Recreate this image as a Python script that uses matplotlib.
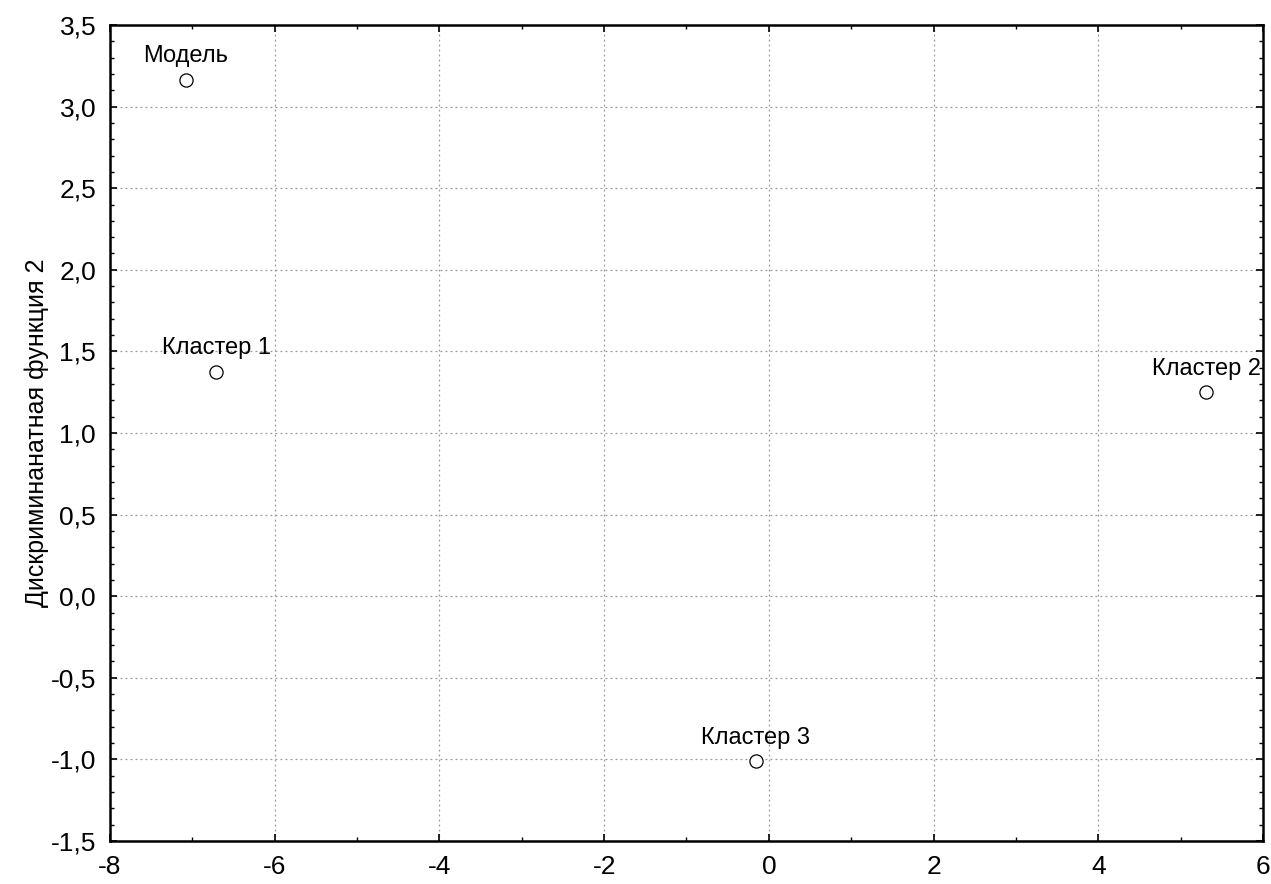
import matplotlib.pyplot as plt
from matplotlib.ticker import MultipleLocator, FuncFormatter

plt.rcParams['font.family'] = ['Liberation Sans Narrow', 'Liberation Sans', 'DejaVu Sans']
plt.rcParams['axes.unicode_minus'] = False

names = ['Модель', 'Кластер 1', 'Кластер 2', 'Кластер 3']
f1 = [-7.08, -6.71, 5.31, -0.16]
f2 = [3.165, 1.375, 1.25, -1.01]

fig = plt.figure(figsize=(12.71, 8.84), dpi=100)
ax = fig.add_axes([110 / 1271, 43 / 884, 1153 / 1271, 816 / 884])

ax.plot(f1, f2, 'o', mfc='white', mec='black', ms=9.5, mew=0.9, zorder=3)
for n, x, y in zip(names, f1, f2):
    ax.annotate(n, (x, y), xytext=(0, 9), textcoords='offset points',
                ha='center', va='bottom', fontsize=17)

ax.set_xlim(-8, 6)
ax.set_ylim(-1.5, 3.5)
ax.xaxis.set_major_locator(MultipleLocator(2))
ax.xaxis.set_minor_locator(MultipleLocator(1))
ax.yaxis.set_major_locator(MultipleLocator(0.5))
ax.yaxis.set_minor_locator(MultipleLocator(0.1))
# decimal comma on the y axis
ax.yaxis.set_major_formatter(FuncFormatter(lambda v, p: ('%.1f' % v).replace('.', ',')))
ax.xaxis.set_major_formatter(FuncFormatter(lambda v, p: '%d' % round(v)))

ax.grid(True, which='major', ls=(0, (1.5, 2.5)), color='#999999', lw=0.9)
ax.tick_params(which='both', direction='in', top=True, right=True, labelsize=19)
ax.tick_params(which='major', length=5, width=1.2, pad=10)
ax.tick_params(which='minor', length=3, width=1)
for s in ax.spines.values():
    s.set_linewidth(1.8)

ax.set_ylabel('Дискриминанатная функция 2', fontsize=18, labelpad=1)

fig.savefig('out.png', dpi=100)
